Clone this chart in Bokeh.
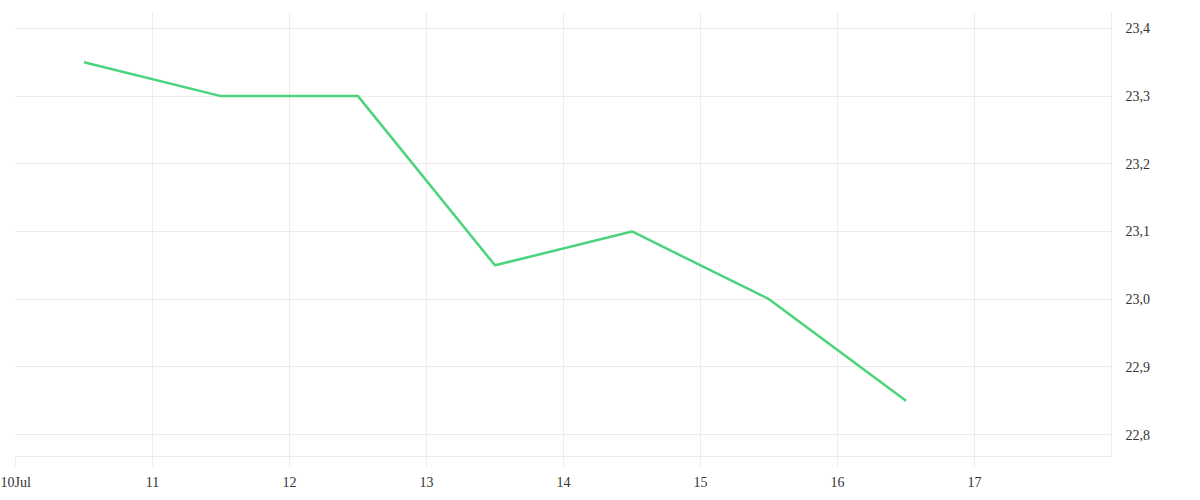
from datetime import datetime
from bokeh.plotting import figure
from bokeh.models import FixedTicker, CustomJSTickFormatter, Range1d
from bokeh.embed import file_html
from bokeh.resources import INLINE

# data
dates = ["2024-07-10 12:00", "2024-07-11 12:00", "2024-07-12 12:00", "2024-07-13 12:00",
         "2024-07-14 12:00", "2024-07-15 12:00", "2024-07-16 12:00"]
values = [23.35, 23.30, 23.30, 23.05, 23.10, 23.00, 22.85]
tick_days = ["2024-07-10", "2024-07-11", "2024-07-12", "2024-07-13",
             "2024-07-14", "2024-07-15", "2024-07-16", "2024-07-17"]
y_ticks = [22.8, 22.9, 23.0, 23.1, 23.2, 23.3, 23.4]

def ms(s):
    fmt = "%Y-%m-%d %H:%M" if " " in s else "%Y-%m-%d"
    return (datetime.strptime(s, fmt) - datetime(1970, 1, 1)).total_seconds() * 1000

xs = [ms(d) for d in dates]
xt = [ms(d) for d in tick_days]

x0 = ms("2024-07-10")
x1 = ms("2024-07-18")

p = figure(width=1184, height=492, output_backend="svg", toolbar_location=None,
           x_axis_type="datetime", y_axis_location="right",
           x_range=Range1d(x0, x1), y_range=Range1d(22.7676, 23.4235),
           min_border_left=15, min_border_top=12, min_border_bottom=34, min_border_right=73)
p.outline_line_color = None
p.background_fill_color = "white"
p.border_fill_color = "white"

p.line(xs, values, line_color="#4cd47c", line_width=2.5)

grid_col = "#ececec"
font = "Liberation Serif"

p.xaxis.ticker = FixedTicker(ticks=xt)
p.xaxis.formatter = CustomJSTickFormatter(code="""
const d = new Date(tick);
const day = d.getUTCDate();
return index == 0 ? day + "Jul" : String(day);
""")
p.xaxis.axis_line_color = grid_col
p.xaxis.major_tick_line_color = grid_col
p.xaxis.major_tick_out = 10
p.xaxis.major_tick_in = 0
p.xaxis.minor_tick_line_color = None
p.xaxis.major_label_text_font = font
p.xaxis.major_label_text_font_size = "14px"
p.xaxis.major_label_text_color = "#333333"
p.xaxis.major_label_standoff = 8

p.yaxis.ticker = FixedTicker(ticks=y_ticks)
p.yaxis.formatter = CustomJSTickFormatter(code="return tick.toFixed(1).replace('.', ',');")
p.yaxis.axis_line_color = grid_col
p.yaxis.major_tick_line_color = None
p.yaxis.minor_tick_line_color = None
p.yaxis.major_label_text_font = font
p.yaxis.major_label_text_font_size = "14px"
p.yaxis.major_label_text_color = "#333333"
p.yaxis.major_label_standoff = 8

p.xgrid.grid_line_color = grid_col
p.ygrid.grid_line_color = grid_col
p.xgrid.ticker = FixedTicker(ticks=xt)
p.ygrid.ticker = FixedTicker(ticks=y_ticks)

open("out.html", "w").write(file_html(p, INLINE))
